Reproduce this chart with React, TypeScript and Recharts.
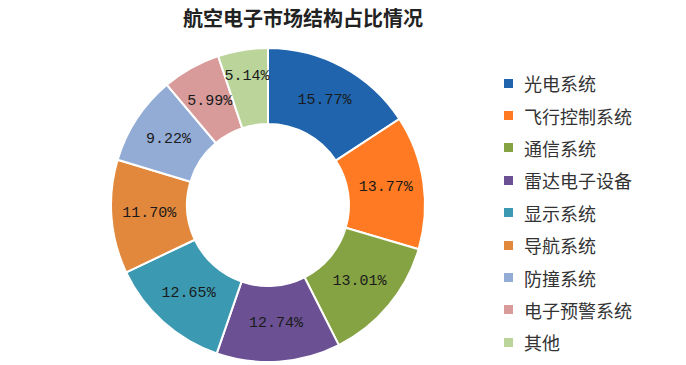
import { PieChart, Pie, Cell, Legend } from "recharts";

const categories = ["光电系统", "飞行控制系统", "通信系统", "雷达电子设备", "显示系统", "导航系统", "防撞系统", "电子预警系统", "其他"];
const shares = [15.77, 13.77, 13.01, 12.74, 12.65, 11.7, 9.22, 5.99, 5.14];
const colors = ["#1F64AD", "#FF7A22", "#85A343", "#6B5193", "#3B9AB1", "#E2883C", "#93ACD6", "#D89B9A", "#BAD49A"];

const data = categories.map((name, i) => ({ name, value: shares[i] }));

const RAD = Math.PI / 180;

function renderLabel(props: any) {
  const { cx, cy, midAngle, innerRadius, outerRadius, value } = props;
  // narrow last slice: push label outward so it clears its neighbour
  const r = (innerRadius + outerRadius) / 2 + (value < 5.5 ? 11 : 0);
  const x = cx + r * Math.cos(-midAngle * RAD);
  const y = cy + r * Math.sin(-midAngle * RAD);
  return (
    <text x={x} y={y} textAnchor="middle" dominantBaseline="central" fill="#1a1a1a" fontSize={15} fontFamily="Liberation Mono, DejaVu Sans Mono, monospace">
      {value.toFixed(2)}%
    </text>
  );
}

function LegendBox() {
  return (
    <div style={{ fontFamily: "Noto Sans CJK SC, sans-serif", fontSize: 18, color: "#333" }}>
      {categories.map((c, i) => (
        <div key={c} style={{ display: "flex", alignItems: "center", height: 32.4 }}>
          <span style={{ width: 9, height: 9, background: colors[i], display: "inline-block", marginRight: 11 }} />
          <span>{c}</span>
        </div>
      ))}
    </div>
  );
}

export default function App() {
  return (
    <div style={{ position: "absolute", left: 0, top: 0, width: 686, height: 365, background: "#fff" }}>
      <div style={{ position: "absolute", left: 0, width: 606, top: 3, textAlign: "center", fontFamily: "Noto Sans CJK SC, sans-serif", fontWeight: "bold", fontSize: 20, color: "#222", zIndex: 2 }}>
        航空电子市场结构占比情况
      </div>
      <PieChart width={686} height={365} margin={{ top: 0, right: 0, bottom: 0, left: 0 }}>
        <Pie
          data={data}
          dataKey="value"
          nameKey="name"
          cx={268}
          cy={205}
          innerRadius={81}
          outerRadius={157}
          startAngle={90}
          endAngle={-270}
          stroke="#fff"
          strokeWidth={2}
          label={renderLabel}
          labelLine={false}
          isAnimationActive={false}
        >
          {data.map((d, i) => (
            <Cell key={d.name} fill={colors[i]} />
          ))}
        </Pie>
        <Legend layout="vertical" align="right" verticalAlign="top" wrapperStyle={{ left: 504, top: 67, width: 180 }} content={() => <LegendBox />} />
      </PieChart>
    </div>
  );
}
